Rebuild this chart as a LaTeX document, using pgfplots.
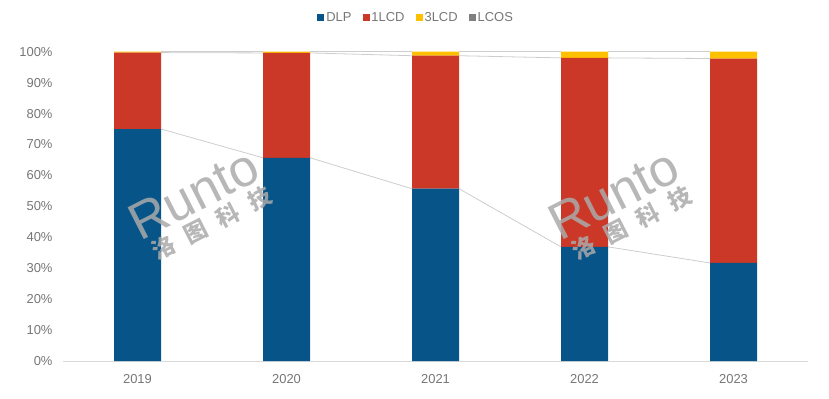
\documentclass[border=0pt]{standalone}
\usepackage{fontspec}
\setmainfont{Liberation Sans}
\newfontfamily\cjk{Noto Sans CJK SC}
\usepackage{pgfplots}
\pgfplotsset{compat=1.18}
\definecolor{cDLP}{RGB}{6,84,136}
\definecolor{cLCDa}{RGB}{203,56,39}
\definecolor{cLCDc}{RGB}{255,192,0}
\definecolor{cLCOS}{RGB}{128,128,128}
\definecolor{txtgray}{RGB}{118,118,118}
\definecolor{sline}{RGB}{205,205,205}
\definecolor{wm}{RGB}{170,170,170}

\pgfplotstableread{
x DLP LCDa LCDc LCOS
0 75.0 24.7 0.3 0
1 65.7 33.9 0.4 0
2 55.7 43.0 1.3 0
3 36.9 61.1 2.0 0
4 31.7 66.1 2.2 0
}\shares

\begin{document}
\begin{tikzpicture}[x=1bp,y=1bp]
\useasboundingbox (0,0) rectangle (829,398);
% series lines
\begin{axis}[at={(63bp,37bp)}, anchor=south west, scale only axis,
  width=745bp, height=309.3bp, xmin=-0.5, xmax=4.5, ymin=0, ymax=100,
  hide axis, unbounded coords=jump]
\addplot[sline, line width=0.8pt] coordinates {(0.158,75.0)(0.842,65.7)(1,nan)(1.158,65.7)(1.842,55.7)(2,nan)(2.158,55.7)(2.842,36.9)(3,nan)(3.158,36.9)(3.842,31.7)};
\addplot[sline, line width=0.8pt] coordinates {(0.158,99.7)(0.842,99.6)(1,nan)(1.158,99.6)(1.842,98.7)(2,nan)(2.158,98.7)(2.842,98.0)(3,nan)(3.158,98.0)(3.842,97.8)};
\addplot[sline, line width=0.8pt] coordinates {(0.158,100)(0.842,100)(1,nan)(1.158,100)(1.842,100)(2,nan)(2.158,100)(2.842,100)(3,nan)(3.158,100)(3.842,100)};
\end{axis}
\begin{axis}[at={(63bp,37bp)}, anchor=south west, scale only axis,
  width=745bp, height=309.3bp, xmin=-0.5, xmax=4.5, ymin=0, ymax=100,
  ybar stacked, bar width=47bp,
  xtick={0,1,2,3,4}, xticklabels={2019,2020,2021,2022,2023},
  ytick={0,10,...,100},
  yticklabel={\pgfmathprintnumber{\tick}\%},
  /pgf/number format/assume math mode=true,
  major tick length=0pt,
  axis x line*=bottom, axis y line*=left,
  x axis line style={draw=black!15, line width=0.8pt, -},
  y axis line style={draw=none},
  ticklabel style={font=\fontsize{13}{15}\selectfont, text=txtgray},
  yticklabel style={xshift=-7bp},
  xticklabel style={yshift=-10bp},
  legend style={at={(0.474,1.11)}, anchor=center, draw=none, fill=none,
    legend columns=4, font=\fontsize{13}{15}\selectfont, text=txtgray,
    /tikz/every even column/.append style={column sep=9bp}},
  legend image code/.code={\fill[#1] (0bp,-3.5bp) rectangle (7bp,3.5bp);},
  every axis plot/.append style={draw=none}
]
\addplot[fill=cDLP] table[x=x,y=DLP]{\shares};
\addplot[fill=cLCDa] table[x=x,y=LCDa]{\shares};
\addplot[fill=cLCDc] table[x=x,y=LCDc]{\shares};
\addplot[fill=cLCOS] table[x=x,y=LCOS]{\shares};
\legend{DLP,1LCD,3LCD,LCOS}
\end{axis}
% watermarks
\foreach \cx in {200,620}{
  \node[text=wm, opacity=0.85, rotate=27, align=left, inner sep=0pt] at (\cx,192)
    {{\fontsize{52}{48}\selectfont Runto}\\[4bp]
     \hspace*{6bp}{\cjk\bfseries\fontsize{23}{23}\selectfont 洛\hspace{13bp}图\hspace{13bp}科\hspace{13bp}技}};
}
\end{tikzpicture}
\end{document}
